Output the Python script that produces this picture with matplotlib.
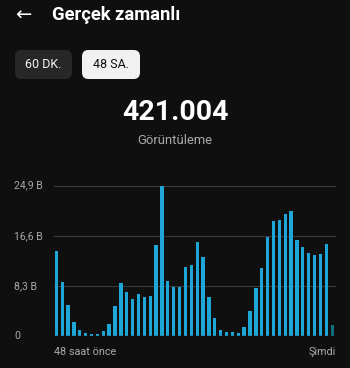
import matplotlib.pyplot as plt
from matplotlib.patches import FancyBboxPatch
import numpy as np

# views per hour (thousands), last 48 hours
views = [14.1, 8.9, 5.1, 2.3, 1.0, 0.55, 0.35, 0.35, 0.8, 2.0, 4.9, 8.7,
         7.25, 6.1, 7.0, 6.5, 6.65, 15.0, 24.8, 9.1, 8.1, 8.1, 11.4, 11.8,
         15.65, 13.1, 6.4, 2.9, 1.05, 0.65, 0.65, 0.55, 1.55, 4.15, 8.0, 11.3,
         16.4, 19.0, 19.3, 20.2, 20.75, 15.9, 14.7, 13.8, 13.45, 13.55, 15.3, 1.8]
yticks = [0, 8.3, 16.6, 24.9]
ytick_labels = ['0', '8,3 B', '16,6 B', '24,9 B']
total = '421.004'

plt.rcParams['font.family'] = ['Roboto', 'DejaVu Sans']

W, H = 350, 368
bg = '#0f0f0f'
fig = plt.figure(figsize=(W/100, H/100), dpi=100, facecolor=bg)

def fx(px): return px / W
def fy(py): return 1 - py / H

# header
fig.text(fx(15), fy(15), '\u2190', color='white', fontsize=14, va='center', ha='left',
         family=['DejaVu Sans'])
fig.text(fx(52), fy(15), 'Gerçek zamanlı', color='white', fontsize=13.2,
         fontweight='bold', va='center', ha='left')

# toggle buttons
for x0, x1, label, fc, tc in [(15, 72, '60 DK.', '#272727', '#f1f1f1'),
                               (82, 140, '48 SA.', '#f1f1f1', '#0f0f0f')]:
    box = FancyBboxPatch((fx(x0), fy(79)), fx(x1 - x0), 29/H,
                         boxstyle='round,pad=0,rounding_size=0.018',
                         transform=fig.transFigure, facecolor=fc, edgecolor='none')
    fig.patches.append(box)
    fig.text(fx((x0 + x1)/2), fy(64.5), label, color=tc, fontsize=9,
             ha='center', va='center')

# big number
fig.text(fx(175), fy(112), total, color='white', fontsize=20.5, fontweight='bold',
         ha='center', va='center')
fig.text(fx(175), fy(140), 'Görüntüleme', color='#aaaaaa', fontsize=9.4,
         ha='center', va='center')

# chart
ax = fig.add_axes([fx(54), fy(336), fx(336 - 54), (336 - 180)/H])
ax.set_facecolor(bg)
x = np.arange(len(views))
colors = ['#1ea7d6'] * (len(views) - 1) + ['#0d6e7e']
ax.bar(x, views, width=0.56, color=colors, zorder=3)
ymax = 24.9 * (336 - 180) / (336 - 185.7)
ax.set_ylim(0, ymax)
ax.set_xlim(-0.39, 47.65)
for t in yticks[1:]:
    ax.axhline(t, color='#3a3a3a', linewidth=0.8, zorder=1)
ax.axhline(0, color='#222222', linewidth=1.0, zorder=4)
for s in ax.spines.values():
    s.set_visible(False)
ax.set_xticks([])
ax.set_yticks([])

for t, lab in zip(yticks, ytick_labels):
    py = 336 - t * (336 - 185.7) / 24.9
    fig.text(fx(14), fy(py), lab, color='#aaaaaa', fontsize=7.6, ha='left', va='center')

fig.text(fx(54), fy(352), '48 saat önce', color='#aaaaaa', fontsize=7.8, ha='left', va='center')
fig.text(fx(336), fy(352), 'Şimdi', color='#aaaaaa', fontsize=7.8, ha='right', va='center')

fig.savefig('out.png', dpi=100, facecolor=bg)
